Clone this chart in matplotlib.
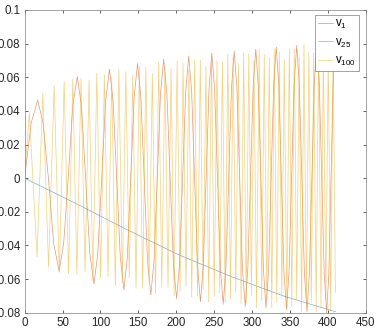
import matplotlib
matplotlib.use('Agg')
import matplotlib.pyplot as plt

plt.rcParams['font.family'] = ['Liberation Sans', 'DejaVu Sans']
plt.rcParams['mathtext.fontset'] = 'custom'
plt.rcParams['mathtext.rm'] = 'Liberation Sans'
plt.rcParams['mathtext.it'] = 'Liberation Sans'

# v_1: slowly falling curve
v1_x = [0, 67, 135, 204, 273, 341, 410]
v1_y = [0, -0.0149, -0.0306, -0.0457, -0.0586, -0.0700, -0.0794]

# v_25: read extrema, zero crossings and shoulders
v25_x = [0, 8.65, 17.3, 24.35, 31.4, 38.45, 45.5, 51.5, 57.5, 63.5, 69.5,
         75.0, 80.5, 86.0, 91.5, 96.6, 101.75, 106.9, 112.0, 116.75, 121.5,
         126.25, 131.0, 135.5, 140.0, 144.5, 149.0, 153.4, 157.75, 162.1, 166.5,
         170.75, 175.0, 179.25, 183.5, 187.75, 192.0, 196.25, 200.5, 204.5, 208.5,
         212.5, 216.5, 220.4, 224.25, 228.1, 232.0, 235.75, 239.5, 243.25, 247.0,
         250.75, 254.5, 258.25, 262.0, 265.6, 269.25, 272.9, 276.5, 280.1, 283.75,
         287.4, 291.0, 294.5, 298.0, 301.5, 305.0, 308.4, 311.75, 315.1, 318.5,
         321.9, 325.25, 328.6, 332.0, 335.4, 338.75, 342.1, 345.5, 348.9, 352.25,
         355.6, 359.0, 362.4, 365.75, 369.1, 372.5, 375.75, 379.0, 382.25, 385.5,
         388.75, 392.0, 395.25, 398.5, 401.4, 404.25, 407.1, 410.0]
v25_y = [0, 0.0328, 0.0464, 0.0328, 0, -0.0390, -0.0552, -0.0390, 0, 0.0428, 0.0605,
         0.0428, 0, -0.0445, -0.0630, -0.0445, 0, 0.0459, 0.0649, 0.0459, 0,
         -0.0470, -0.0665, -0.0470, 0, 0.0482, 0.0682, 0.0482, 0, -0.0491, -0.0695,
         -0.0491, 0, 0.0501, 0.0708, 0.0501, 0, -0.0506, -0.0716, -0.0506, 0,
         0.0513, 0.0725, 0.0513, 0, -0.0519, -0.0734, -0.0519, 0, 0.0525, 0.0743,
         0.0525, 0, -0.0530, -0.0749, -0.0530, 0, 0.0534, 0.0755, 0.0534, 0,
         -0.0539, -0.0762, -0.0539, 0, 0.0542, 0.0767, 0.0542, 0, -0.0546, -0.0772,
         -0.0546, 0, 0.0551, 0.0779, 0.0551, 0, -0.0553, -0.0782, -0.0553, 0,
         0.0559, 0.0790, 0.0559, 0, -0.0561, -0.0793, -0.0561, 0, 0.0570, 0.0806,
         0.0570, 0, -0.0566, -0.0800, -0.0566, 0, 0.0573, 0.0810]

# v_100: read peaks and troughs
v100_peak_x = [6.2, 24.0, 39.0, 52.2, 63.6, 74.4, 85.0, 95.3, 105.2, 114.9,
               124.4, 133.6, 142.6, 151.4, 160.0, 168.5, 176.9, 185.1, 193.2, 201.2,
               209.0, 216.7, 224.3, 231.8, 239.2, 246.6, 253.8, 261.0, 268.1, 275.1,
               282.1, 289.0, 295.8, 302.6, 309.4, 316.2, 322.8, 329.4, 336.0, 342.6,
               349.2, 355.8, 362.2, 368.6, 375.0, 381.4, 387.8, 394.2, 400.6, 407.0]
v100_peak_y = [0.0390, 0.0506, 0.0550, 0.0575, 0.0590, 0.0593, 0.0584, 0.0625, 0.0616, 0.0600,
               0.0650, 0.0634, 0.0612, 0.0663, 0.0660, 0.0623, 0.0690, 0.0660, 0.0651, 0.0698,
               0.0682, 0.0644, 0.0706, 0.0703, 0.0664, 0.0735, 0.0696, 0.0691, 0.0740, 0.0713,
               0.0680, 0.0745, 0.0740, 0.0698, 0.0770, 0.0734, 0.0714, 0.0771, 0.0749, 0.0705,
               0.0770, 0.0766, 0.0721, 0.0795, 0.0749, 0.0744, 0.0794, 0.0765, 0.0726, 0.0786]
v100_trough_x = [16.4, 31.6, 45.8, 58.0, 69.0, 79.7, 90.2, 100.3, 110.1, 119.7,
                 129.0, 138.1, 147.0, 155.7, 164.3, 172.7, 181.0, 189.2, 197.2, 205.1,
                 212.9, 220.5, 228.1, 235.5, 242.9, 250.2, 257.4, 264.6, 271.6, 278.6,
                 285.6, 292.4, 299.2, 306.0, 312.8, 319.5, 326.1, 332.7, 339.3, 345.9,
                 352.5, 359.0, 365.4, 371.8, 378.2, 384.6, 391.0, 397.4, 403.8, 410.0]
v100_trough_y = [-0.0467, -0.0530, -0.0560, -0.0566, -0.0572, -0.0558, -0.0610, -0.0594, -0.0584, -0.0639,
                 -0.0624, -0.0594, -0.0655, -0.0655, -0.0619, -0.0688, -0.0651, -0.0651, -0.0698, -0.0675,
                 -0.0644, -0.0706, -0.0703, -0.0664, -0.0735, -0.0703, -0.0684, -0.0740, -0.0720, -0.0680,
                 -0.0745, -0.0740, -0.0697, -0.0770, -0.0727, -0.0722, -0.0770, -0.0741, -0.0705, -0.0770,
                 -0.0765, -0.0721, -0.0794, -0.0757, -0.0736, -0.0794, -0.0772, -0.0725, -0.0792, -0.0680]

v100 = sorted([(0, 0.0)] + list(zip(v100_peak_x, v100_peak_y)) + list(zip(v100_trough_x, v100_trough_y)))
v100_x = [p[0] for p in v100]
v100_y = [p[1] for p in v100]

xticks = [0, 50, 100, 150, 200, 250, 300, 350, 400, 450]
yticks = [-0.08, -0.06, -0.04, -0.02, 0, 0.02, 0.04, 0.06, 0.08, 0.1]
ytick_labels = ['-0.08', '-0.06', '-0.04', '-0.02', '0', '0.02', '0.04', '0.06', '0.08', '0.1']

fig = plt.figure(figsize=(3.74, 3.31), dpi=100)
ax = fig.add_axes([24.6 / 374, 18.3 / 331, 341.1 / 374, 302.7 / 331])

ax.plot(v1_x, v1_y, color='#0072BD', lw=0.5, alpha=0.55, label=r'$\mathrm{v}_{1}$')
ax.plot(v25_x, v25_y, color='#D95319', lw=0.5, alpha=0.6, label=r'$\mathrm{v}_{25}$')
ax.plot(v100_x, v100_y, color='#EDB120', lw=0.5, alpha=0.6, label=r'$\mathrm{v}_{100}$')

ax.set_xlim(0, 450)
ax.set_ylim(-0.08, 0.1)
ax.set_xticks(xticks)
ax.set_yticks(yticks)
ax.set_yticklabels(ytick_labels)
ax.tick_params(direction='in', length=2.5, width=0.5, labelsize=8.3, colors='#262626',
               top=True, right=True, pad=3)
for s in ax.spines.values():
    s.set_linewidth(0.5)
    s.set_color('#7f7f7f')

leg = ax.legend(loc='upper right', bbox_to_anchor=(359.3 / 374, 1 - 14.7 / 331),
                bbox_transform=fig.transFigure, borderaxespad=0, fancybox=False,
                fontsize=8.3, handlelength=1.25, handletextpad=0.2, labelspacing=0.45,
                borderpad=0.3, framealpha=1)
leg.get_frame().set_edgecolor('#7f7f7f')
leg.get_frame().set_linewidth(0.5)

fig.savefig('out.png', dpi=100)
